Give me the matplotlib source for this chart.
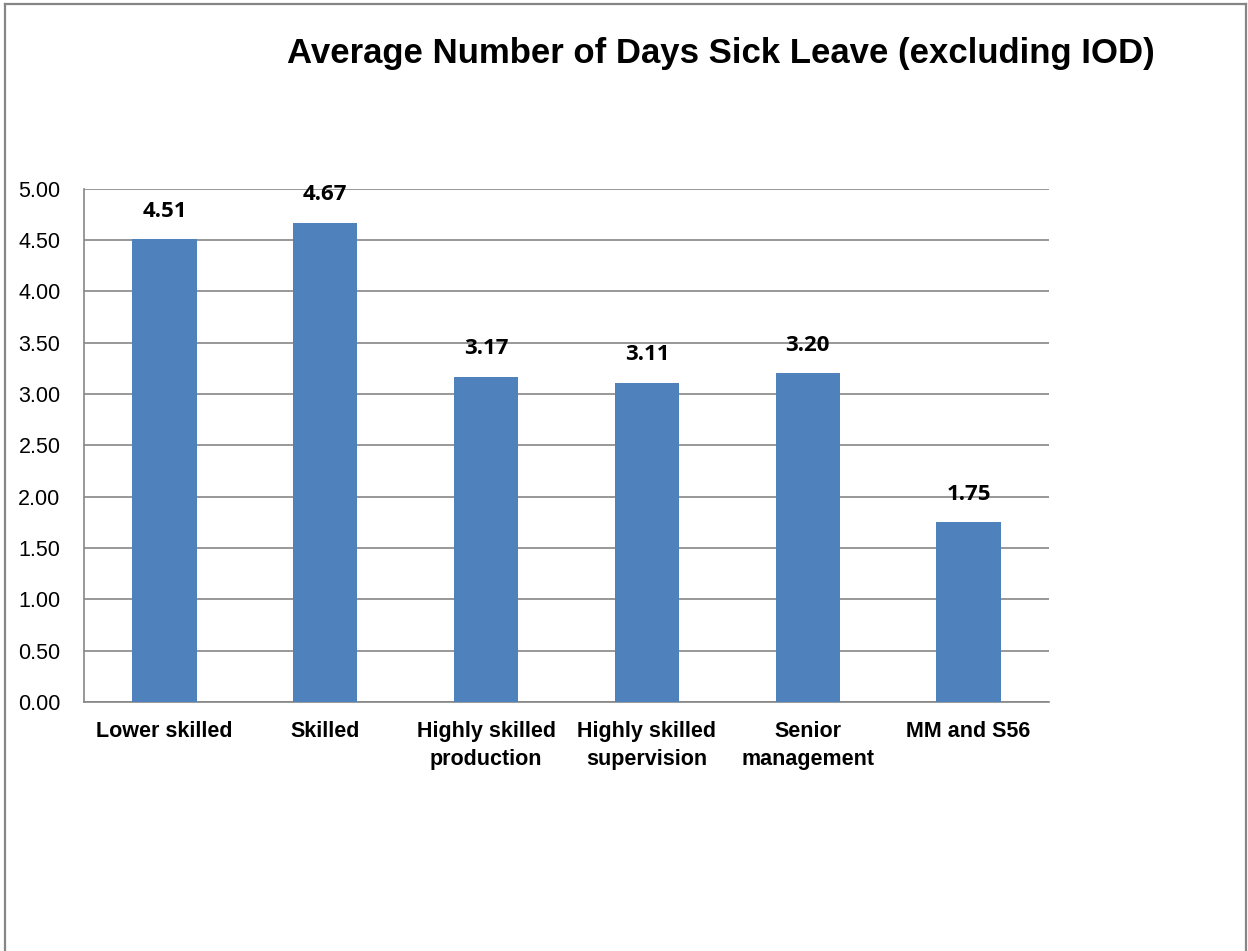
import matplotlib
matplotlib.use("Agg")
import matplotlib.pyplot as plt
from matplotlib.lines import Line2D

categories = ["Lower skilled", "Skilled", "Highly skilled\nproduction",
              "Highly skilled\nsupervision", "Senior\nmanagement", "MM and S56"]
values = [4.51, 4.67, 3.17, 3.11, 3.20, 1.75]
yticks = [0.0, 0.5, 1.0, 1.5, 2.0, 2.5, 3.0, 3.5, 4.0, 4.5, 5.0]
title = "Average Number of Days Sick Leave (excluding IOD)"

BAR = "#4F81BD"
GRID = "#868686"

fig = plt.figure(figsize=(12.48, 9.51), dpi=100)
ax = fig.add_axes([84 / 1248, 249 / 951, (1049 - 84) / 1248, (702 - 188.7) / 951])

x = list(range(len(categories)))
ax.bar(x, values, width=0.4, color=BAR, zorder=3)
ax.set_xlim(-0.5, len(categories) - 0.5)
ax.set_ylim(0, 5)
ax.set_yticks(yticks)
ax.set_yticklabels([f"{v:.2f}" for v in yticks], fontfamily="Liberation Sans", fontsize=15.5)
ax.set_xticks(x)
ax.set_xticklabels(categories, fontfamily="Liberation Sans", fontweight="bold",
                   fontsize=15.5, linespacing=1.4, va="top")
ax.tick_params(axis="y", length=0, pad=17)
ax.tick_params(axis="x", length=0, pad=14)
ax.yaxis.grid(True, color=GRID, linewidth=1.2, zorder=0)
for side in ("top", "right"):
    ax.spines[side].set_visible(False)
for side in ("left", "bottom"):
    ax.spines[side].set_color(GRID)
    ax.spines[side].set_linewidth(1.2)

for xi, v in zip(x, values):
    ax.annotate(f"{v:.2f}", (xi, v), xytext=(0, 20), textcoords="offset points",
                ha="center", va="center", fontfamily="Open Sans", fontweight="bold",
                fontsize=16, color="black")

fig.text(721 / 1248, 1 - 53 / 951, title, ha="center", va="center",
         fontfamily="Liberation Sans", fontweight="bold", fontsize=25)

# outer frame (left, top, right)
fw = 1.6
fig.add_artist(Line2D([5 / 1248, 5 / 1248], [0, 1 - 4 / 951], color=GRID, lw=fw,
                      transform=fig.transFigure))
fig.add_artist(Line2D([5 / 1248, 1246 / 1248], [1 - 4 / 951, 1 - 4 / 951], color=GRID, lw=fw,
                      transform=fig.transFigure))
fig.add_artist(Line2D([1246 / 1248, 1246 / 1248], [0, 1 - 4 / 951], color=GRID, lw=fw,
                      transform=fig.transFigure))

fig.savefig("out.png", dpi=100)
